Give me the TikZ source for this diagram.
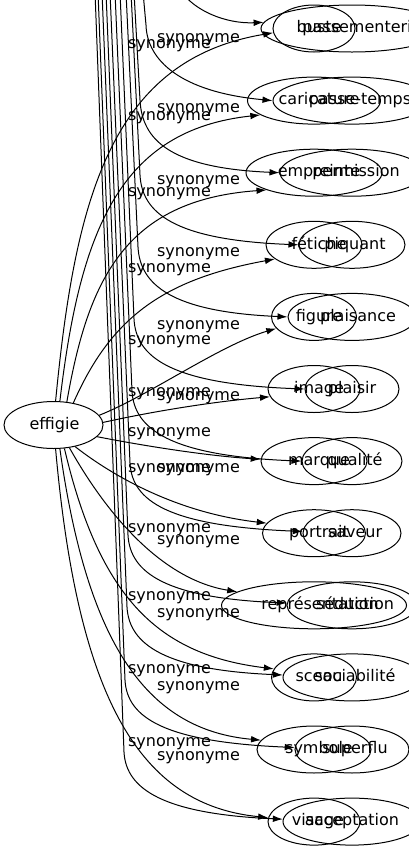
\documentclass[tikz,border=0pt]{standalone}
\usepackage{fontspec}
\setmainfont{DejaVu Sans}
\usetikzlibrary{shapes.geometric, arrows.meta}
% word drawn a little right of its ellipse centre (#1 = twice the shift)
\newcommand\wordat[2]{\makebox[0pt]{\hspace*{#1}#2}}

\begin{document}
\begin{tikzpicture}[x=0.75pt, y=-0.75pt, >={Latex[length=7.5pt,width=5pt]},
  line width=0.75pt,
  word node/.style={draw, ellipse, inner sep=0pt, text height=9pt, text depth=2.6pt, minimum height=47*0.75pt, minimum width=#1*0.75pt, font=\fontsize{12}{14}\selectfont},
  edge label/.style={inner sep=0pt, font=\fontsize{12}{14}\selectfont},
  syn edge/.style={->}]
\useasboundingbox (0,0) rectangle (409,851);
\clip (0,0) rectangle (409,851);

\node [word node=99]	(effigie) at (53.5,425)	{\wordat{1.5pt}{effigie}};

\node [word node=82]	(buste)		at (314,28.5)	{\wordat{7.5pt}{buste}};
\node [word node=133]	(caricature)	at (314,100.6)	{\wordat{7.5pt}{caricature}};
\node [word node=136]	(empreinte)	at (314,172.7)	{\wordat{7.5pt}{empreinte}};
\node [word node=96]	(fetiche)	at (314,244.8)	{\wordat{7.5pt}{fétiche}};
\node [word node=85]	(figure)	at (314,316.9)	{\wordat{7.5pt}{figure}};
\node [word node=92]	(image)		at (314,389)	{\wordat{7.5pt}{image}};
\node [word node=106]	(marque)	at (314,461.1)	{\wordat{7.5pt}{marque}};
\node [word node=103]	(portrait)	at (314,533.2)	{\wordat{7.5pt}{portrait}};
\node [word node=185]	(representation) at (314,605.3) {\wordat{9pt}{représentation}};
\node [word node=85]	(sceau)		at (314,677.4)	{\wordat{7.5pt}{sceau}};
\node [word node=114]	(symbole)	at (314,749.5)	{\wordat{7.5pt}{symbole}};
\node [word node=92]	(visage)	at (314,821.6)	{\wordat{6pt}{visage}};

\node [word node=182]	(passementerie)	at (352,28.5)	{\wordat{15pt}{passementerie}};
\node [word node=158]	(passetemps)	at (352,100.6)	{\wordat{12pt}{passe-temps}};
\node [word node=144]	(permission)	at (352,172.7)	{\wordat{6pt}{permission}};
\node [word node=106]	(piquant)	at (352,244.8)	{\wordat{4.5pt}{piquant}};
\node [word node=128]	(plaisance)	at (352,316.9)	{\wordat{9pt}{plaisance}};
\node [word node=94]	(plaisir)	at (352,389)	{plaisir};
\node [word node=100]	(qualite)	at (352,461.1)	{\wordat{4.5pt}{qualité}};
\node [word node=98]	(saveur)	at (352,533.2)	{\wordat{4.5pt}{saveur}};
\node [word node=130]	(seduction)	at (352,605.3)	{\wordat{4.5pt}{séduction}};
\node [word node=138]	(sociabilite)	at (352,677.4)	{\wordat{4.5pt}{sociabilité}};
\node [word node=114]	(superflu)	at (352,749.5)	{\wordat{4.5pt}{superflu}};
\node [word node=138]	(acceptation)	at (352,821.6)	{acceptation};

% edges coming down from above the frame
\coordinate (s1) at (182,-8);
\coordinate (s2) at (143,-8);
\coordinate (s3) at (134,-8);
\coordinate (s4) at (131,-8);
\coordinate (s5) at (126,-8);
\coordinate (s6) at (120,-8);
\coordinate (s7) at (115,-8);
\coordinate (s8) at (110,-8);
\coordinate (s9) at (106,-8);
\coordinate (s10) at (102,-8);
\coordinate (s11) at (98,-8);
\coordinate (s12) at (95,-8);

\draw [syn edge] (effigie.85) .. controls (75,200) and (110,60) .. (buste.186);
\draw [syn edge] (effigie.75) .. controls (80,230) and (120,130) .. (caricature.195);
\draw [syn edge] (effigie.60) .. controls (88,280) and (125,200) .. (empreinte.200);
\draw [syn edge] (effigie.48) .. controls (110,320) and (160,280) .. (fetiche.200);
\draw [syn edge] (effigie.12) .. controls (150,395) and (220,345) .. (figure.197);
\draw [syn edge] (effigie.3) .. controls (150,412) and (210,402) .. (image.190);
\draw [syn edge] (effigie.-15) .. controls (150,447) and (210,456) .. (marque.178);
\draw [syn edge] (effigie.-45) .. controls (105,470) and (170,512) .. (portrait.168);
\draw [syn edge] (effigie.-55) .. controls (110,520) and (165,580) .. (representation.170);
\draw [syn edge] (effigie.-65) .. controls (100,600) and (160,655) .. (sceau.168);
\draw [syn edge] (effigie.-75) .. controls (88,650) and (150,730) .. (symbole.170);
\draw [syn edge] (effigie.-85) .. controls (78,700) and (140,805) .. (visage.175);

\draw [syn edge] (s1) .. controls (194,10) and (225,24) .. (passementerie.176);
\draw [syn edge] (s2) -- (146,25) .. controls (147,60) and (180,92) .. (passetemps.180);
\draw [syn edge] (s3) -- (140,100) .. controls (142,140) and (170,168) .. (permission.180);
\draw [syn edge] (s4) -- (140,175) .. controls (142,212) and (172,240) .. (piquant.180);
\draw [syn edge] (s5) -- (138,247) .. controls (140,285) and (172,312) .. (plaisance.180);
\draw [syn edge] (s6) -- (134,319) .. controls (136,357) and (170,384) .. (plaisir.180);
\draw [syn edge] (s7) -- (132,391) .. controls (134,429) and (170,456) .. (qualite.180);
\draw [syn edge] (s8) -- (130,463) .. controls (132,501) and (168,526) .. (saveur.178);
\draw [syn edge] (s9) -- (128,535) .. controls (130,573) and (166,598) .. (seduction.178);
\draw [syn edge] (s10) -- (127,607) .. controls (129,645) and (166,670) .. (sociabilite.178);
\draw [syn edge] (s11) -- (125,680) .. controls (127,718) and (165,742) .. (superflu.178);
\draw [syn edge] (s12) -- (124,752) .. controls (126,790) and (165,814) .. (acceptation.178);

% labels
\node [edge label] (l1) at (169.5,45.5) {synonyme};
\node [edge label] (l2) at (169.5,117.5) {synonyme};
\node [edge label] (l3) at (169.5,193.5) {synonyme};
\node [edge label] (l4) at (169.5,269.5) {synonyme};
\node [edge label] (l5) at (169.5,341.5) {synonyme};
\node [edge label] (l6) at (169.5,393.5) {synonyme};
\node [edge label] (l7) at (169.5,433.5) {synonyme};
\node [edge label] (l8) at (169.5,469.5) {synonyme};
\node [edge label] (l9) at (169.5,529.5) {synonyme};
\node [edge label] (l10) at (169.5,597.5) {synonyme};
\node [edge label] (l11) at (169.5,670.5) {synonyme};
\node [edge label] (l12) at (169.5,743.5) {synonyme};

\node [edge label] (m2) at (198.5,39.5) {synonyme};
\node [edge label] (m3) at (198.5,109.5) {synonyme};
\node [edge label] (m4) at (198.5,181.5) {synonyme};
\node [edge label] (m5) at (198.5,253.5) {synonyme};
\node [edge label] (m6) at (198.5,326.5) {synonyme};
\node [edge label] (m7) at (198.5,397.5) {synonyme};
\node [edge label] (m8) at (198.5,469.5) {synonyme};
\node [edge label] (m9) at (198.5,541.5) {synonyme};
\node [edge label] (m10) at (198.5,614.5) {synonyme};
\node [edge label] (m11) at (198.5,687.5) {synonyme};
\node [edge label] (m12) at (198.5,757.5) {synonyme};
\end{tikzpicture}
\end{document}
